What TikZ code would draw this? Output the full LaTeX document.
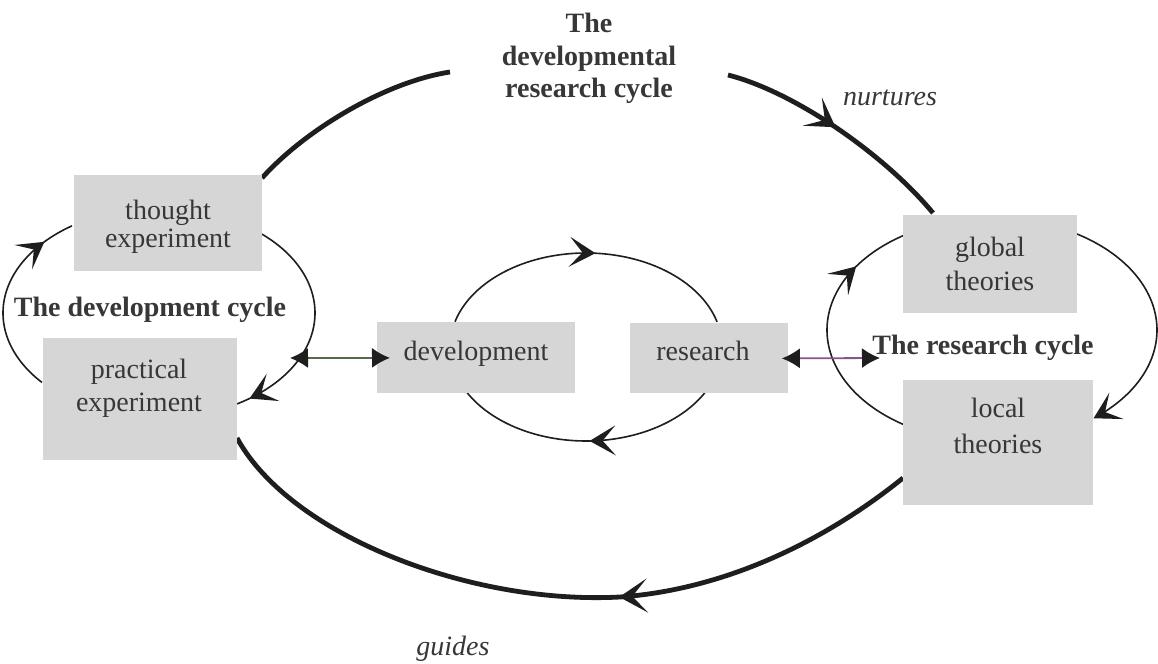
\documentclass[tikz,border=0pt]{standalone}
\usepackage{fontspec}
\setmainfont{Liberation Serif}
\usetikzlibrary{arrows.meta,decorations.markings}
\definecolor{boxgray}{RGB}{214,214,214}
\definecolor{txt}{RGB}{55,55,55}
\definecolor{ink}{RGB}{30,30,30}
\definecolor{devline}{RGB}{85,105,75}
\definecolor{resline}{RGB}{135,85,135}
\begin{document}
\begin{tikzpicture}[x=0.5pt,y=-0.5pt,
  box/.style={fill=boxgray, draw=none, inner sep=0pt, anchor=north west},
  boxtext/.style={text=txt, inner sep=0pt, align=center},
  boldlabel/.style={text=txt, inner sep=0pt, font=\fontsize{14}{16}\selectfont\bfseries},
  itlabel/.style={text=txt, inner sep=0pt, font=\fontsize{14}{16}\selectfont\itshape},
  thincyc/.style={draw=ink, line width=0.8pt},
  thickcyc/.style={draw=ink, line width=2.4pt},
  midsmall/.style={postaction={decorate}, decoration={markings, mark=at position #1 with {\arrow{Stealth[length=13pt,width=15pt,inset=6.5pt,color=ink]}}}},
  midbig/.style={postaction={decorate}, decoration={markings, mark=at position #1 with {\arrow{Stealth[length=14pt,width=17pt,inset=7.5pt,color=ink]}}}},
  dbl/.style={line width=0.9pt, {Latex[length=9pt,width=10pt,color=ink]}-{Latex[length=9pt,width=10pt,color=ink]}}
]
\fill[white] (0,0) rectangle (1158,664);
\useasboundingbox (0,0) rectangle (1158,664);

% ---------- big developmental research cycle ----------
\coordinate (bigA) at (262,178);
\coordinate (bigB) at (450,72);
\coordinate (bigC) at (728,75);
\coordinate (bigD) at (933,213);
\coordinate (bigE) at (903,478);
\coordinate (bigM) at (620,597);
\coordinate (bigF) at (237,438);
\draw[thickcyc] (bigA) .. controls (305,130) and (385,82) .. (bigB);
\draw[thickcyc, midbig=0.48] (bigC) .. controls (795,92) and (885,155) .. (bigD);
\draw[thickcyc, midbig=0.42] (bigE) .. controls (820,545) and (720,590) .. (bigM)
   .. controls (470,605) and (290,535) .. (bigF);

% ---------- development cycle (left) ----------
\draw[thincyc, midsmall=0.84] plot[domain=138.6:236.1, samples=100] ({159+156*cos(\x)},{313+105*sin(\x)});
\draw[thincyc, midsmall=0.94] plot[domain=-48.7:60, samples=100] ({159+156*cos(\x)},{313+105*sin(\x)});

% ---------- central cycle ----------
\draw[thincyc, midsmall=0.53] plot[domain=195.6:344.5, samples=100] ({586+136*cos(\x)},{347+94*sin(\x)});
\draw[thincyc, midsmall=0.49] plot[domain=28:151, samples=100] ({586+136*cos(\x)},{347+94*sin(\x)});

% ---------- research cycle (right) ----------
\draw[thincyc, midsmall=0.78] plot[domain=122.6:237.4, samples=100] ({992+165*cos(\x)},{330+112*sin(\x)});
\draw[thincyc, -{Stealth[length=13pt,width=15pt,inset=6.5pt]}] plot[domain=-59:52, samples=100] ({992+165*cos(\x)},{330+112*sin(\x)});

% ---------- boxes ----------
\node[box, minimum width=94pt, minimum height=48pt] (thought) at (74,175) {};
\node[box, minimum width=97pt, minimum height=61pt] (practical) at (43,338) {};
\node[box, minimum width=99pt, minimum height=35.5pt] (dev) at (377,322) {};
\node[box, minimum width=79pt, minimum height=35pt] (res) at (630,323) {};
\node[box, minimum width=87pt, minimum height=49pt] (global) at (903,215) {};
\node[box, minimum width=95pt, minimum height=62.5pt] (local) at (903,380) {};

% ---------- box texts ----------
\node[boxtext, anchor=north, font=\fontsize{14}{14}\selectfont] (thoughtT) at (168,200) {thought\\experiment};
\node[boxtext, anchor=north, font=\fontsize{14}{16.5}\selectfont] (practicalT) at (139,359) {practical\\experiment};
\node[boxtext, anchor=base, font=\fontsize{14}{16}\selectfont] (devT) at (476,360) {development};
\node[boxtext, anchor=base, font=\fontsize{14}{16}\selectfont] (resT) at (703,360) {research};
\node[boxtext, anchor=north, font=\fontsize{14}{17}\selectfont] (globalT) at (990,237) {global\\theories};
\node[boxtext, anchor=north, font=\fontsize{14}{18}\selectfont] (localT) at (998,398) {local\\theories};

% ---------- labels ----------
\node[boldlabel, anchor=north, align=center, font=\fontsize{14}{16.25}\selectfont\bfseries] (title) at (589,13) {The\\developmental\\research cycle};
\node[boldlabel, anchor=base] (devcyc) at (150,316) {The development cycle};
\node[boldlabel, anchor=base] (rescyc) at (983,354) {The research cycle};
\node[itlabel, anchor=base] (nurt) at (890,105) {nurtures};
\node[itlabel, anchor=base] (guid) at (453,655) {guides};

% ---------- double arrows ----------
\coordinate (dcl) at (290,358);
\coordinate (rcr) at (880,358);
\draw[dbl, draw=devline] (dcl) -- ([xshift=6.5pt]dev.west);
\draw[dbl, draw=resline] ([xshift=-3.5pt]res.east) -- (rcr);
\end{tikzpicture}
\end{document}
